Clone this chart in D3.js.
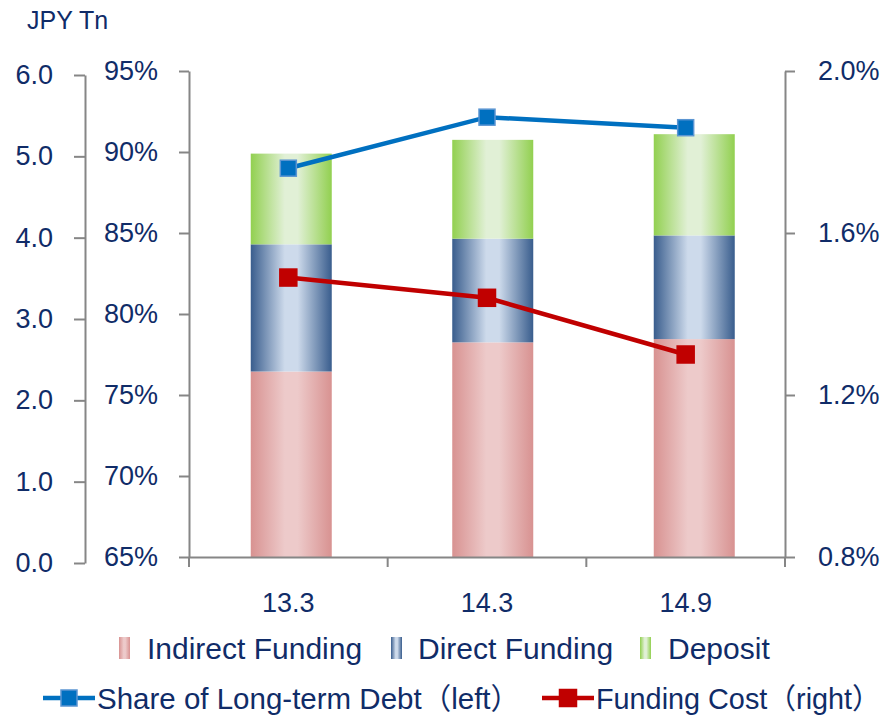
<!DOCTYPE html>
<html>
<head>
<meta charset="utf-8">
<script src="https://cdn.jsdelivr.net/npm/d3@7"></script>
<style>
  body { margin: 0; background: #fff; }
  text { font-family: "Liberation Sans", Arial, "Noto Sans CJK JP", sans-serif; fill: #102c68; }
</style>
</head>
<body>
<div id="chart"></div>
<script>
//************* data ***************/
var categories = ["13.3", "14.3", "14.9"];
var indirectFunding = [2.29, 2.65, 2.69];
var directFunding = [1.57, 1.28, 1.28];
var deposit = [1.12, 1.22, 1.25];
var shareLongTerm = [89.0, 92.15, 91.5];   // % (left)
var fundingCost = [1.49, 1.44, 1.30];      // % (right)

var tnTicks = [0, 1, 2, 3, 4, 5, 6];
var pctTicks = [65, 70, 75, 80, 85, 90, 95];
var costTicks = [0.8, 1.2, 1.6, 2.0];

var seriesNames = ["Indirect Funding", "Direct Funding", "Deposit"];
var lineNames = ["Share of Long-term Debt\uFF08left\uFF09", "Funding Cost\uFF08right\uFF09"];

//************* dimensions ***************/
var W = 886, H = 716;
var plot = {left: 189, right: 785, top: 71, bottom: 557};
var axisColor = "#868686";

var svg = d3.select("#chart").append("svg")
  .attr("width", W)
  .attr("height", H);

//************* gradients ***************/
var grads = [
  {id: "gIndirect", edge: "#d89291", mid: "#edcaca"},
  {id: "gDirect", edge: "#395d8d", mid: "#cddaeb"},
  {id: "gDeposit", edge: "#92d050", mid: "#e1f0d6"}
];
var defs = svg.append("defs");
grads.forEach(function(g) {
  var lg = defs.append("linearGradient")
    .attr("id", g.id)
    .attr("x1", "0").attr("x2", "1").attr("y1", "0").attr("y2", "0");
  lg.append("stop").attr("offset", "0").attr("stop-color", g.edge);
  lg.append("stop").attr("offset", "0.42").attr("stop-color", g.mid);
  lg.append("stop").attr("offset", "0.58").attr("stop-color", g.mid);
  lg.append("stop").attr("offset", "1").attr("stop-color", g.edge);
});

//************* scales ***************/
var x = d3.scaleBand().domain(categories).range([plot.left, plot.right]);
// bars sit a little to the right of the category centres in the original
var xBar = d3.scaleBand().domain(categories).range([190.5, 795]);
var barW = 81;

var y = d3.scaleLinear().domain([0, 6]).range([plot.bottom, plot.top]);
var yTnAxis = d3.scaleLinear().domain([0, 6]).range([563, 75]);
var yPct = d3.scaleLinear().domain([65, 95]).range([plot.bottom, plot.top]);
var yCost = d3.scaleLinear().domain([0.8, 2.0]).range([plot.bottom, plot.top]);

//************* bars ***************/
var rows = categories.map(function(c, i) {
  return {cat: c, indirect: indirectFunding[i], direct: directFunding[i], deposit: deposit[i]};
});
var stacked = d3.stack().keys(["indirect", "direct", "deposit"])(rows);

svg.selectAll("g.layer")
  .data(stacked)
  .enter().append("g")
    .attr("class", "layer")
    .attr("fill", function(d, i) { return "url(#" + grads[i].id + ")"; })
  .selectAll("rect")
  .data(function(d) { return d; })
  .enter().append("rect")
    .attr("x", function(d) { return xBar(d.data.cat) + (xBar.bandwidth() - barW) / 2; })
    .attr("width", barW)
    .attr("y", function(d) { return y(d[1]); })
    .attr("height", function(d) { return y(d[0]) - y(d[1]); });

//************* axes ***************/
function styleAxis(g) {
  g.selectAll("path, line").attr("stroke", axisColor).attr("stroke-width", 2);
  g.selectAll("text").style("font-size", "27px").attr("fill", "#102c68")
    .style("font-family", "'Liberation Sans', Arial, sans-serif");
}

// JPY Tn axis
svg.append("g")
  .attr("transform", "translate(85,0)")
  .call(d3.axisLeft(yTnAxis).tickValues(tnTicks).tickFormat(d3.format(".1f"))
    .tickSize(11).tickSizeOuter(0).tickPadding(21))
  .call(styleAxis);

// percent axis (left)
svg.append("g")
  .attr("transform", "translate(" + plot.left + ",0)")
  .call(d3.axisLeft(yPct).tickValues(pctTicks).tickFormat(function(d) { return d + "%"; })
    .tickSize(10).tickSizeOuter(0).tickPadding(21))
  .call(styleAxis);

// cost axis (right)
svg.append("g")
  .attr("transform", "translate(" + plot.right + ",0)")
  .call(d3.axisRight(yCost).tickValues(costTicks).tickFormat(function(d) { return d3.format(".1f")(d) + "%"; })
    .tickSize(10).tickSizeOuter(0).tickPadding(23))
  .call(styleAxis);

// category axis
var xAxisG = svg.append("g")
  .attr("transform", "translate(0," + plot.bottom + ")")
  .call(d3.axisBottom(x).tickSize(0).tickSizeOuter(0).tickPadding(36))
  .call(styleAxis);

// tick marks between categories
var edges = categories.map(function(c) { return x(c); }).concat([plot.right]);
xAxisG.selectAll("line.edge")
  .data(edges)
  .enter().append("line")
    .attr("class", "edge")
    .attr("x1", function(d) { return d; })
    .attr("x2", function(d) { return d; })
    .attr("y1", 0)
    .attr("y2", 10)
    .attr("stroke", axisColor)
    .attr("stroke-width", 2);

// unit label
svg.append("text")
  .attr("x", 27)
  .attr("y", 29)
  .style("font-size", "25px")
  .text("JPY Tn");

//************* lines ***************/
var cx = function(i) { return x(categories[i]) + x.bandwidth() / 2; };

var lineDefs = [
  {vals: shareLongTerm, scale: yPct, color: "#0070c0", border: "#5b95d2", size: 16},
  {vals: fundingCost, scale: yCost, color: "#c00000", border: "#c00000", size: 17}
];

lineDefs.forEach(function(L) {
  var line = d3.line()
    .x(function(d, i) { return cx(i); })
    .y(function(d) { return L.scale(d); });

  svg.append("path")
    .datum(L.vals)
    .attr("d", line)
    .attr("fill", "none")
    .attr("stroke", L.color)
    .attr("stroke-width", 4.5);

  svg.selectAll(null)
    .data(L.vals)
    .enter().append("rect")
      .attr("x", function(d, i) { return cx(i) - L.size / 2; })
      .attr("y", function(d) { return L.scale(d) - L.size / 2; })
      .attr("width", L.size)
      .attr("height", L.size)
      .attr("fill", L.color)
      .attr("stroke", L.border)
      .attr("stroke-width", 1.5);
});

//************* legend ***************/
var legend1 = [
  {x: 119, tx: 147},
  {x: 391, tx: 418},
  {x: 640, tx: 668}
];
legend1.forEach(function(p, i) {
  svg.append("rect")
    .attr("x", p.x).attr("y", 637)
    .attr("width", 11).attr("height", 22)
    .attr("fill", "url(#" + grads[i].id + ")");
  svg.append("text")
    .attr("x", p.tx).attr("y", 659)
    .style("font-size", "30px")
    .text(seriesNames[i]);
});

var legend2 = [
  {x0: 43, x1: 95, tx: 97, fs: 29.5},
  {x0: 542, x1: 594, tx: 596, fs: 28.8}
];
legend2.forEach(function(p, i) {
  var L = lineDefs[i];
  svg.append("line")
    .attr("x1", p.x0).attr("x2", p.x1)
    .attr("y1", 698).attr("y2", 698)
    .attr("stroke", L.color)
    .attr("stroke-width", 4.5);
  svg.append("rect")
    .attr("x", (p.x0 + p.x1) / 2 - L.size / 2)
    .attr("y", 698 - L.size / 2)
    .attr("width", L.size).attr("height", L.size)
    .attr("fill", L.color)
    .attr("stroke", L.border)
    .attr("stroke-width", 1.5);
  svg.append("text")
    .attr("x", p.tx).attr("y", 709)
    .style("font-size", p.fs + "px")
    .text(lineNames[i]);
});
</script>
</body>
</html>
